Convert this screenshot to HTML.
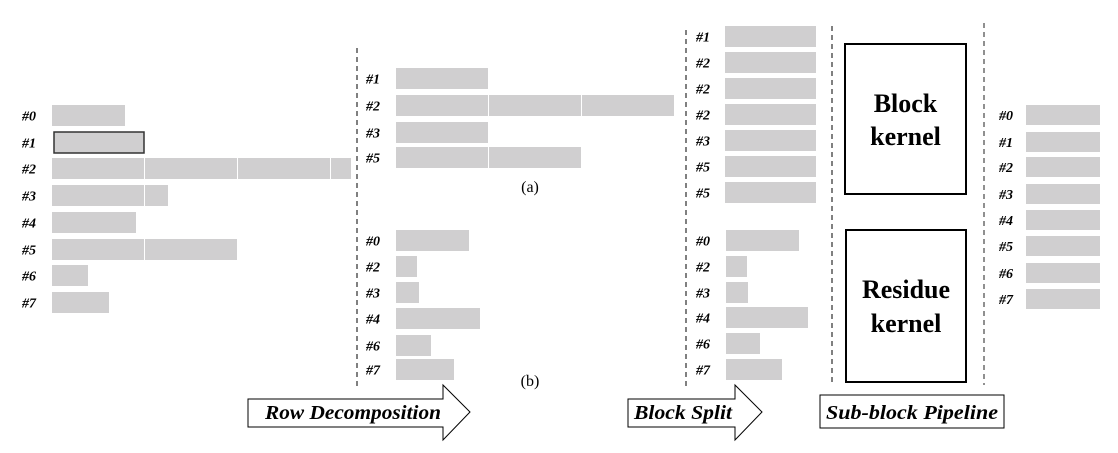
<!DOCTYPE html>
<html><head><meta charset="utf-8"><style>
html,body{margin:0;padding:0;background:#fff;}
svg{display:block;}
.lab{font-family:"Liberation Serif",serif;font-weight:bold;font-style:italic;font-size:14px;fill:#000;}
.big{font-family:"Liberation Serif",serif;font-weight:bold;font-size:26px;fill:#000;text-anchor:middle;}
.cap{font-family:"Liberation Serif",serif;font-size:16px;fill:#000;text-anchor:middle;}
.arr{font-family:"Liberation Serif",serif;font-weight:bold;font-style:italic;font-size:20px;fill:#000;}
</style></head><body>
<svg id="fig" width="1118" height="453" viewBox="0 0 1118 453">
<g id="bars"></g>
<line x1="357" y1="48" x2="357" y2="390" stroke="#000" stroke-dasharray="5,4"/>
<line x1="686" y1="30" x2="686" y2="390" stroke="#000" stroke-dasharray="5,4"/>
<line x1="832" y1="26" x2="832" y2="385" stroke="#000" stroke-dasharray="5,4"/>
<line x1="984" y1="23" x2="984" y2="385" stroke="#555" stroke-width="1.3" stroke-dasharray="5,4"/>
<text class="cap" x="530" y="192">(a)</text>
<text class="cap" x="530" y="386">(b)</text>
<g>
<rect x="845" y="44" width="121" height="150" fill="#fff" stroke="#000" stroke-width="2"/>
<text class="big" x="905.5" y="112">Block</text>
<text class="big" x="905.5" y="145">kernel</text>
</g>
<g>
<rect x="846" y="230" width="120" height="152" fill="#fff" stroke="#000" stroke-width="2"/>
<text class="big" x="906" y="298">Residue</text>
<text class="big" x="906" y="332">kernel</text>
</g>
<g>
<path d="M248,399 H443 V385 L470,412 L443,440 V427 H248 Z" fill="#fff" stroke="#000" stroke-width="1"/>
<text class="arr" x="265" y="419" textLength="176" lengthAdjust="spacingAndGlyphs">Row Decomposition</text>
</g>
<g>
<path d="M628,399 H735 V385 L762,412 L735,440 V427 H628 Z" fill="#fff" stroke="#000" stroke-width="1"/>
<text class="arr" x="634" y="419" textLength="98" lengthAdjust="spacingAndGlyphs">Block Split</text>
</g>
<g>
<rect x="820" y="395" width="184" height="33" fill="#fff" stroke="#000" stroke-width="1"/>
<text class="arr" x="826" y="419" textLength="172" lengthAdjust="spacingAndGlyphs">Sub-block Pipeline</text>
</g>
</svg>
<script>
const origLabels=["#0","#1","#2","#3","#4","#5","#6","#7"];
const origTops=[105,132,158,185,212,239,265,292];
const origLens=[73,93,299,116,84,185,36,57];
const aLabels=["#1","#2","#3","#5"];
const aTops=[68,95,122,147];
const aLens=[92,279,92,186];
const bLabels=["#0","#2","#3","#4","#6","#7"];
const bTops=[230,256,282,308,335,359];
const bLens=[73,21,23,84,35,58];
const sLabels=["#1","#2","#2","#2","#3","#5","#5"];
const sTops=[26,52,78,104,130,156,182];
const sLens=[91,91,91,91,91,91,91];
const rLabels=["#0","#2","#3","#4","#6","#7"];
const rTops=[230,256,282,307,333,359];
const rLens=[73,21,22,82,34,56];
const pLabels=["#0","#1","#2","#3","#4","#5","#6","#7"];
const pTops=[105,132,157,184,210,236,263,289];
const pLens=[74,74,74,74,74,74,74,74];
const NS="http://www.w3.org/2000/svg";
const g=document.getElementById('bars');
function group(name,x0,lx,labels,tops,lens,h,seg,outlineIdx){
  labels.forEach((l,i)=>{
    const t=document.createElementNS(NS,'text');
    t.setAttribute('class','lab');t.setAttribute('x',lx);t.setAttribute('y',tops[i]+h/2+5);
    t.textContent=l;
    
    
    g.appendChild(t);
    let rem=lens[i],x=x0;
    while(rem>0){
      const w=Math.min(seg,rem);
      const r=document.createElementNS(NS,'rect');
      r.setAttribute('x',x);r.setAttribute('y',tops[i]);r.setAttribute('width',w);r.setAttribute('height',h);
      r.setAttribute('fill','#d0cfd0');
      if(i===outlineIdx){r.setAttribute('stroke','#333');r.setAttribute('stroke-width','1.5');r.setAttribute('x',x+2);r.setAttribute('width',w-2);}
      
      
      g.appendChild(r);
      x+=seg+1;rem-=seg+1;
    }
  });
}
group('original-row',52,22,origLabels,origTops,origLens,21,92,1);
group('long-row',396,366,aLabels,aTops,aLens,21,92,-1);
group('short-row',396,366,bLabels,bTops,bLens,21,92,-1);
group('block-row',725,696,sLabels,sTops,sLens,21,92,-1);
group('residue-row',726,696,rLabels,rTops,rLens,21,92,-1);
group('pipeline-row',1026,999,pLabels,pTops,pLens,20,92,-1);
</script>
</body></html>
